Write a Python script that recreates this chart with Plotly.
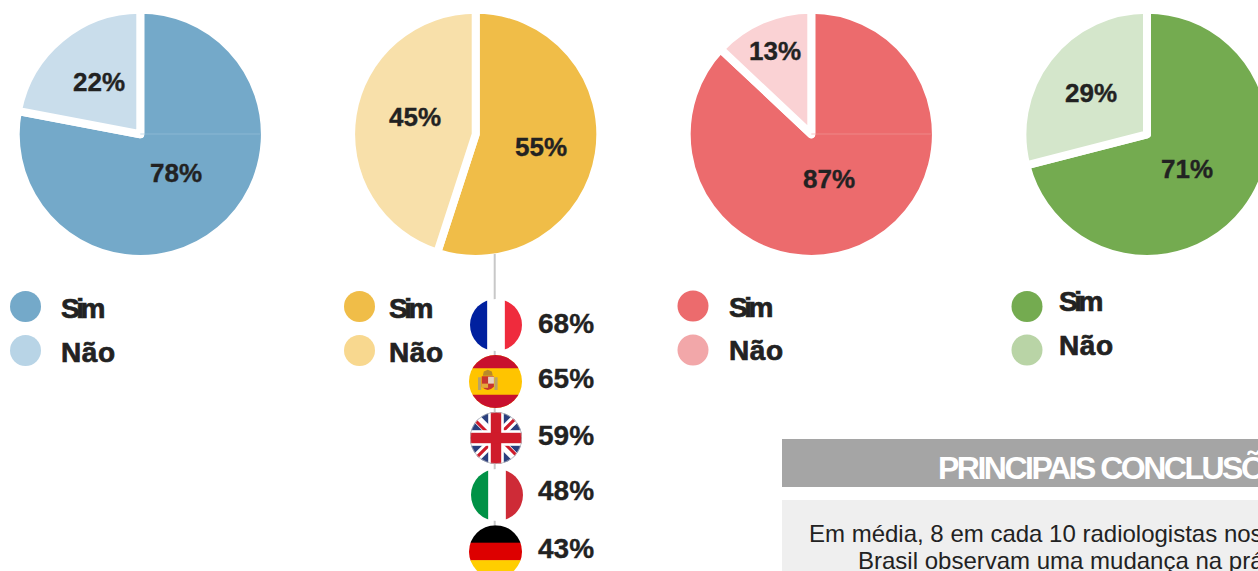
import base64
import plotly.graph_objects as go

W, H = 1300, 571

# ---- data ----
answers = ["Sim", "Não"]
sim_values = [78, 55, 87, 71]
nao_values = [22, 45, 13, 29]
country_codes = ["fr", "es", "gb", "it", "de"]
country_pct = [68, 65, 59, 48, 43]
title_text = "PRINCIPAIS CONCLUSÕES"
body_lines = ["Em média, 8 em cada 10 radiologistas nos", "Brasil observam uma mudança na prática"]

# ---- styles / layout ----
sim_colors = ["#74A9C9", "#F0BD48", "#EC6B6D", "#74AB50"]
nao_colors = ["#C9DDEB", "#F8E0AA", "#FAD2D4", "#D4E6CB"]
leg_nao_colors = ["#B8D4E6", "#F8D88F", "#F2A7A9", "#B9D4A6"]
pie_cx = [140.3, 475.7, 811.3, 1147]
pie_cy = 134.3
pie_r = 124.6
sim_lab = [(176, 173), (541, 146.7), (829, 179), (1187, 169.3)]
nao_lab = [(99, 82), (415, 116.7), (775, 51), (1091, 93)]
dot_x = [25.5, 359.5, 693, 1027]
dot_y = [(306.5, 350.5), (306.5, 350.5), (306, 350), (306.5, 350)]
leg_tx = [61, 389, 729, 1059]
leg_ty = [(308.3, 352.5), (308.3, 352.5), (307, 350.5), (301.5, 345.5)]
flag_c = [(496, 325, 26), (495.5, 381.5, 26.5), (496, 438, 26), (497, 495, 26), (495.5, 551.7, 26.5)]
flag_ty = [323.6, 378.6, 435.6, 490.6, 548.6]
TXT = "#222222"
FONT = "Liberation Sans"

def flag_svg(code):
    parts = {
        "fr": '<rect width="100" height="100" fill="#fff"/><rect width="33" height="100" fill="#00209F"/><rect x="67" width="33" height="100" fill="#EF2B3D"/>',
        "es": '<rect width="100" height="100" fill="#FFC400"/><rect width="100" height="25" fill="#C8102E"/><rect y="75" width="100" height="25" fill="#C8102E"/>'
              '<rect x="17" y="42" width="6" height="24" fill="#B9A26A"/><rect x="48" y="42" width="6" height="24" fill="#B9A26A"/>'
              '<path d="M24 40H47V60Q35.5 72 24 60Z" fill="#C8352F"/><rect x="36" y="41" width="11" height="13" fill="#E5D3C0"/>'
              '<rect x="24" y="54" width="12" height="8" fill="#E3A93A"/><path d="M26 39L28 31L35.5 28L43 31L45 39Z" fill="#B88A2A"/>',
        "gb": '<rect width="100" height="100" fill="#2A3F7E"/>'
              '<path d="M0 0L100 100M100 0L0 100" stroke="#fff" stroke-width="17"/>'
              '<path d="M-3 3L47 53M53 47L103 -3M103 97L53 47M47 53L-3 103" stroke="#CF1B2B" stroke-width="6" fill="none"/>'
              '<rect x="35" width="30" height="100" fill="#fff"/><rect y="35" width="100" height="30" fill="#fff"/>'
              '<rect x="40" width="20" height="100" fill="#CF1B2B"/><rect y="40" width="100" height="20" fill="#CF1B2B"/>',
        "it": '<rect width="100" height="100" fill="#fff"/><rect width="33" height="100" fill="#009246"/><rect x="67" width="33" height="100" fill="#CE2B37"/>',
        "de": '<rect width="100" height="34" fill="#000"/><rect y="33" width="100" height="34" fill="#DD0000"/><rect y="66" width="100" height="34" fill="#FFCE00"/>',
    }[code]
    ring = '<circle cx="50" cy="50" r="49.3" fill="none" stroke="#bdbdbd" stroke-width="1.4"/>' if code == "gb" else ""
    svg = ('<svg xmlns="http://www.w3.org/2000/svg" width="100" height="100" viewBox="0 0 100 100">'
           '<defs><clipPath id="c"><circle cx="50" cy="50" r="50"/></clipPath></defs>'
           f'<g clip-path="url(#c)">{parts}</g>{ring}</svg>')
    return "data:image/svg+xml;base64," + base64.b64encode(svg.encode()).decode()

fig = go.Figure()

# pies
for i in range(4):
    fig.add_trace(go.Pie(
        labels=answers, values=[sim_values[i], nao_values[i]], sort=False,
        direction="clockwise", rotation=0, textinfo="none", hoverinfo="label+percent",
        showlegend=False,
        marker=dict(colors=[sim_colors[i], nao_colors[i]], line=dict(color="#ffffff", width=8)),
        domain=dict(x=[(pie_cx[i] - pie_r) / W, (pie_cx[i] + pie_r) / W],
                    y=[1 - (pie_cy + pie_r) / H, 1 - (pie_cy - pie_r) / H]),
    ))

# legend dots
for i in range(4):
    fig.add_trace(go.Scatter(
        x=[dot_x[i], dot_x[i]], y=list(dot_y[i]), mode="markers", showlegend=False, hoverinfo="skip",
        marker=dict(size=31, color=[sim_colors[i], leg_nao_colors[i]], line=dict(width=0)),
    ))

ann = []
def label(x, y, text, size=26, color=TXT, bold=True, anchor="center"):
    ann.append(dict(x=x, y=y, xref="x", yref="y", text=f"<b>{text}</b>" if bold else text,
                    showarrow=False, xanchor=anchor, yanchor="middle", align=anchor if anchor != "center" else "center",
                    borderpad=0, borderwidth=0,
                    font=dict(family=FONT, size=size, color=color)))

for i in range(4):
    label(*sim_lab[i], f"{sim_values[i]}%")
    label(*nao_lab[i], f"{nao_values[i]}%")
    label(leg_tx[i], leg_ty[i][0], answers[0], size=28, anchor="left")
    label(leg_tx[i], leg_ty[i][1], answers[1], size=28, anchor="left")

for y, p in zip(flag_ty, country_pct):
    label(537.5, y, f"{p}%", size=28, anchor="left")

label(938, 467.5, title_text, size=32, color="#ffffff", anchor="left")
label(809, 533, body_lines[0], size=24, bold=False, anchor="left")
label(858, 560, body_lines[1], size=24, bold=False, anchor="left")

shapes = [
    dict(type="rect", xref="x", yref="y", x0=782, x1=W, y0=439, y1=487, fillcolor="#A5A5A5", line_width=0, layer="below"),
    dict(type="rect", xref="x", yref="y", x0=782, x1=W, y0=500, y1=H, fillcolor="#EFEFEF", line_width=0, layer="below"),
    dict(type="line", xref="x", yref="y", x0=494.7, x1=494.7, y0=254, y1=299, line=dict(color="#C8C8C8", width=2)),
    dict(type="line", xref="x", yref="y", x0=494.7, x1=494.7, y0=299, y1=540, line=dict(color="#C8C8C8", width=2), layer="below"),
    dict(type="line", xref="x", yref="y", x0=pie_cx[0], x1=pie_cx[0] + 120, y0=134, y1=134, line=dict(color="#9CC3DA", width=0.6)),
    dict(type="line", xref="x", yref="y", x0=pie_cx[2], x1=pie_cx[2] + 120, y0=134, y1=134, line=dict(color="#F29A9B", width=0.6)),
]

images = [dict(source=flag_svg(code), xref="x", yref="y", x=cx - r, y=cy - r, sizex=2 * r, sizey=2 * r,
               xanchor="left", yanchor="top", sizing="stretch", layer="above")
          for code, (cx, cy, r) in zip(country_codes, flag_c)]

fig.update_layout(
    width=W, height=H, autosize=False,
    margin=dict(l=0, r=0, t=0, b=0, pad=0),
    paper_bgcolor="#ffffff", plot_bgcolor="rgba(0,0,0,0)",
    xaxis=dict(range=[0, W], visible=False, fixedrange=True),
    yaxis=dict(range=[H, 0], visible=False, fixedrange=True),
    annotations=ann, shapes=shapes, images=images,
    font=dict(family=FONT),
)

post = """
document.documentElement.style.overflow='hidden';
document.body.style.overflow='hidden';
document.body.style.margin='0';
var sp={'Sim':['-3.5px','0.7px'],'Não':['0.6px','0.7px'],'PRINCIPAIS CONCLUSÕES':['-2.5px','0']};
document.querySelectorAll('.annotation-text').forEach(function(t){
  var c=t.textContent, s=sp[c];
  if(s){t.style.letterSpacing=s[0];
    if(s[1]!=='0'){t.style.stroke='#222222';t.style.strokeWidth=s[1];}}
  else if(c.slice(-1)==='%'){t.style.stroke='#222222';t.style.strokeWidth='0.35px';}
});
"""
fig.write_html("out.html", post_script=post, config={"displayModeBar": False})
